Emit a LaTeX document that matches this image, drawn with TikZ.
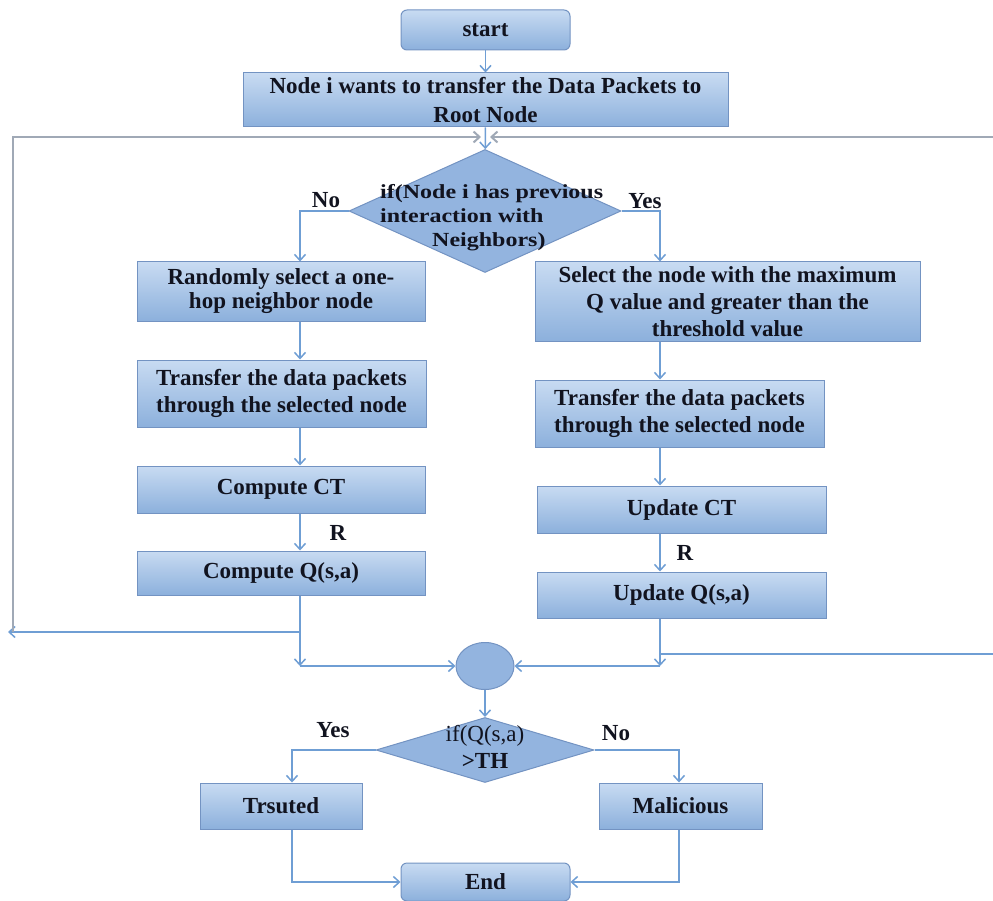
\documentclass[tikz,border=0pt]{standalone}
\usepackage{fontspec}
\setmainfont{Liberation Serif}
\newfontfamily\widefont[FakeStretch=1.2]{Liberation Serif}
\usetikzlibrary{arrows.meta,shapes.geometric}

\definecolor{boxtop}{HTML}{C8DBF2}
\definecolor{boxbot}{HTML}{8CB0DC}
\definecolor{boxedge}{HTML}{7393C2}
\definecolor{diafill}{HTML}{93B4DF}
\definecolor{wireblue}{HTML}{6F9ED4}
\definecolor{loopgray}{HTML}{A0A9B6}
\definecolor{ink}{HTML}{11131F}

\begin{document}
\begin{tikzpicture}[x=1pt,y=-1pt,
  txt/.style={font=\fontsize{23}{27}\selectfont\bfseries, text=ink, align=center, inner sep=0pt},
  box/.style={txt, rectangle, draw=boxedge, line width=1pt, top color=boxtop, bottom color=boxbot},
  rbox/.style={box, rounded corners=6pt},
  dia/.style={diamond, draw=boxedge, line width=1pt, fill=diafill, inner sep=0pt},
  blob/.style={ellipse, draw=boxedge, line width=1pt, fill=diafill, inner sep=0pt},
  arr/.style={draw=wireblue, line width=1.5pt, -{Straight Barb[length=6pt,width=11pt]}},
  wire/.style={draw=wireblue, line width=1.5pt},
  looparr/.style={draw=loopgray, line width=2pt, -{Straight Barb[length=6pt,width=11pt]}},
  lbl/.style={font=\fontsize{23}{27}\selectfont\bfseries, text=ink, inner sep=0pt}
]
\useasboundingbox (0,0) rectangle (993,901);

% ---- top of the flow
\node[rbox, minimum width=169pt, minimum height=40pt] (start) at (485.5,30) {start};
\node[box, minimum width=485pt, minimum height=54pt, font=\fontsize{23}{29}\selectfont\bfseries] (node1) at (485.5,100)
  {Node i wants to transfer the Data Packets to\\Root Node};

% ---- first decision
\node[dia, minimum width=272pt, minimum height=123pt] (dec1) at (485,211) {};
\node[font=\widefont\fontsize{20}{24}\selectfont\bfseries, text=ink, align=left, inner sep=0pt, anchor=north west] (dec1t) at (380,184)
  {if(Node i has previous\\interaction with\\\hspace*{52pt}Neighbors)};

% ---- left column (no previous interaction)
\node[box, minimum width=288pt, minimum height=59pt, font=\fontsize{23}{24}\selectfont\bfseries] (rand) at (281,291.5)
  {Randomly select a one-\\hop neighbor node};
\node[box, minimum width=289pt, minimum height=67pt] (tl) at (281.5,393.5)
  {Transfer the data packets\\through the selected node};
\node[box, minimum width=288pt, minimum height=47pt] (cct) at (281,489.5) {Compute CT};
\node[box, minimum width=288pt, minimum height=44pt] (cq) at (281,573) {Compute Q(s,a)};

% ---- right column (previous interaction)
\node[box, minimum width=385pt, minimum height=79pt] (sel) at (727.5,301.5)
  {Select the node with the maximum\\Q value and greater than the\\threshold value};
\node[box, minimum width=289pt, minimum height=67pt] (tr) at (679.5,413.5)
  {Transfer the data packets\\through the selected node};
\node[box, minimum width=289pt, minimum height=47pt] (uct) at (681.5,509.5) {Update CT};
\node[box, minimum width=289pt, minimum height=46pt] (uq) at (681.5,595) {Update Q(s,a)};

% ---- merge and second decision
\node[blob, minimum width=58pt, minimum height=47pt] (circ) at (485,666) {};
\node[dia, minimum width=218pt, minimum height=65pt] (dec2) at (485,750) {};
\node[txt] (dec2t) at (485,747) {\textmd{if(Q(s,a)}\\>TH};

\node[box, minimum width=162pt, minimum height=46pt] (tru) at (281,806) {Trsuted};
\node[box, minimum width=163pt, minimum height=46pt] (mal) at (680.5,806) {Malicious};
\node[rbox, minimum width=169pt, minimum height=38pt] (end) at (485.5,882) {End};

% ---- branch labels
\node[lbl] (noA) at (326,200) {No};
\node[lbl] (yesA) at (645,201) {Yes};
\node[lbl] (rL) at (338,533) {R};
\node[lbl] (rR) at (685,553) {R};
\node[lbl] (yesB) at (333,730) {Yes};
\node[lbl] (noB) at (616,733) {No};

% ---- helper coordinates for the connector columns
\coordinate (colL) at (300,0);
\coordinate (colR) at (660,0);
\coordinate (colBL) at (292,0);
\coordinate (colBR) at (679,0);
\coordinate (joinL) at (300,666);
\coordinate (joinR) at (660,666);
\coordinate (forkL) at (300,632);
\coordinate (backL) at (8,632);
\coordinate (cornerLB) at (13,632);
\coordinate (cornerLT) at (13,137);
\coordinate (meetL) at (481,137);
\coordinate (meetR) at (490,137);
\coordinate (forkR) at (660,654);
\coordinate (outR) at (993,654);
\coordinate (outRT) at (993,137);

% ---- connectors
\draw[arr] (start) -- (node1);
\draw[arr] (node1) -- (dec1);
\draw[arr] (dec1.west) -| (colL |- rand.north);
\draw[arr] (dec1.east) -| (colR |- sel.north);

\draw[arr] (colL |- rand.south) -- (colL |- tl.north);
\draw[arr] (colL |- tl.south) -- (colL |- cct.north);
\draw[arr] (colL |- cct.south) -- (colL |- cq.north);
\draw[arr] (colL |- cq.south) -- (joinL);
\draw[arr] (joinL) -- (circ.west);
\draw[arr] (forkL) -- (backL);
\draw[looparr] (cornerLB) -- (cornerLT) -- (meetL);

\draw[arr] (colR |- sel.south) -- (colR |- tr.north);
\draw[arr] (colR |- tr.south) -- (colR |- uct.north);
\draw[arr] (colR |- uct.south) -- (colR |- uq.north);
\draw[arr] (colR |- uq.south) -- (joinR);
\draw[arr] (joinR) -- (circ.east);
\draw[wire] (forkR) -- (outR);
\draw[looparr] (outRT) -- (meetR);

\draw[arr] (circ) -- (dec2);
\draw[arr] (dec2.west) -| (colBL |- tru.north);
\draw[arr] (dec2.east) -| (colBR |- mal.north);
\draw[arr] (colBL |- tru.south) |- (end.west);
\draw[arr] (colBR |- mal.south) |- (end.east);
\end{tikzpicture}
\end{document}
